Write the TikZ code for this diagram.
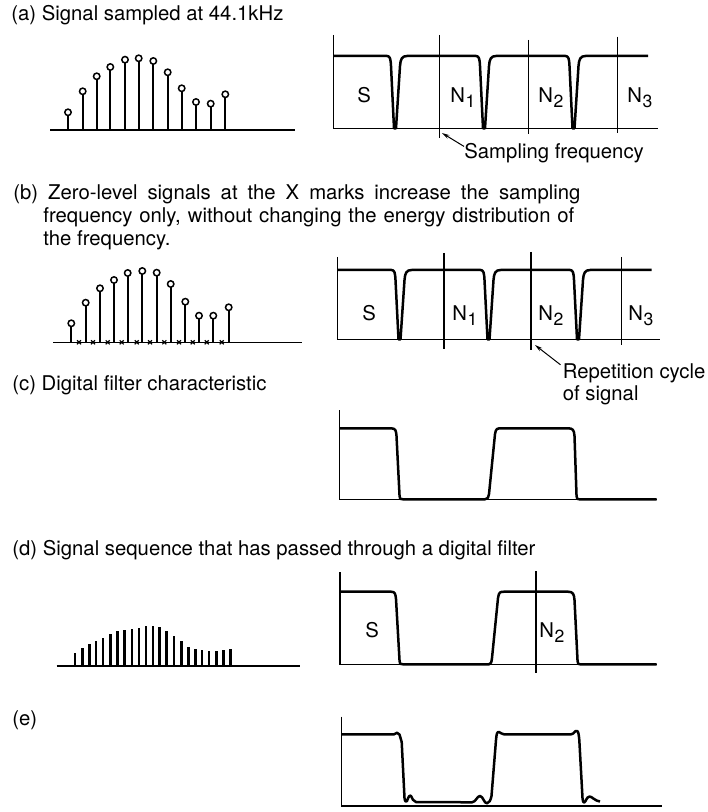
\documentclass[tikz,border=0pt]{standalone}
\usepackage{fontspec}
\setmainfont{TeX Gyre Heros}
\usetikzlibrary{arrows.meta}
\newcommand{\lowsub}[1]{\kern0.3pt\raisebox{-2.4pt}{\fontsize{8.8pt}{10pt}\selectfont #1}}
\begin{document}
\begin{tikzpicture}[x=0.5pt,y=-0.5pt,
  txt/.style={inner sep=0pt, anchor=base west, font=\fontsize{10.15pt}{12pt}\selectfont},
  axisline/.style={line width=0.7pt},
  divline/.style={line width=0.6pt},
  curveline/.style={line width=1.25pt, line join=round},
  stemline/.style={line width=0.9pt},
  barline/.style={line width=1.35pt},
  circ/.style={line width=0.75pt, fill=white},
  arr/.style={line width=0.5pt, -{Stealth[length=3.8pt,width=2pt]}}]
\useasboundingbox (0,0) rectangle (707,812);

% ---------------- (a)
\node[txt] (capa) at (11,21) {(a) Signal sampled at 44.1kHz};
\draw[axisline] (50,130) -- (295,130);
\foreach \x/\y in {68/112.3, 82.7/91.3, 96.7/76.3, 110.3/67, 125/59.7, 138.7/58.3, 153.3/61, 167.7/72.3, 181.7/88.3, 196/102, 210.7/103.7, 225.3/94.3}{
  \draw[stemline] (\x,130) -- (\x,\y+3);
  \draw[circ] (\x,\y) circle[radius=1.6pt];
}
\draw[axisline] (333.3,35) -- (333.3,128.3) -- (658,128.3);
\draw[divline] (439.5,35) -- (439.5,138);
\draw[divline] (528.8,40) -- (528.8,134);
\draw[divline] (617.7,36.7) -- (617.7,133);
\draw[curveline] (333.3,56)
  -- (387,56) .. controls (390,56) and (390.7,59) .. (391,66) -- (394,128.3) -- (396,128.3) -- (400,66) .. controls (400.5,59) and (402,56) .. (407,56)
  -- (476,56) .. controls (479,56) and (479.7,59) .. (480,66) -- (483,128.3) -- (485,128.3) -- (489,66) .. controls (489.5,59) and (491,56) .. (496,56)
  -- (565.5,56) .. controls (568.5,56) and (569.2,59) .. (569.5,66) -- (572.5,128.3) -- (574.5,128.3) -- (578.5,66) .. controls (579,59) and (580.5,56) .. (585.5,56)
  -- (648,56);
\node[txt] (aS) at (357,102.3) {S};
\node[txt] (aN1) at (450,102.3) {N\lowsub{1}};
\node[txt] (aN2) at (538,102.3) {N\lowsub{2}};
\node[txt] (aN3) at (627,102.3) {N\lowsub{3}};
\node[txt] (sf) at (464,159) {Sampling frequency};
\coordinate (sftip) at (442,133);
\draw[arr] ([yshift=-1.5pt]sf.north west) -- (sftip);

% ---------------- (b)
\node[txt] (capb1) at (13,200) {\makebox[283.5pt][s]{(b) Zero-level signals at the X marks increase the sampling}};
\node[txt] (capb2) at (43,223) {\makebox[265.5pt][s]{frequency only, without changing the energy distribution of}};
\node[txt] (capb3) at (43,246) {the frequency.};
\draw[axisline] (53,342.3) -- (301.7,342.3);
\foreach \x/\y in {71.3/323.3, 85.7/302.7, 100/288.3, 114/280, 127.7/273, 142.3/271, 156.7/272.7, 170.7/284, 185.3/301.7, 199/315.7, 213.3/315.7, 228.7/307.3}{
  \draw[stemline] (\x,342.3) -- (\x,\y+3);
  \draw[circ] (\x,\y) circle[radius=1.6pt];
}
\foreach \x in {79, 93, 107.7, 121.7, 136.7, 150, 164.3, 179, 192.7, 206.7, 221.7}{
  \draw[line width=0.6pt] (\x-2,340.3) -- (\x+2,344.3) (\x-2,344.3) -- (\x+2,340.3);
}
\draw[axisline] (337.3,257) -- (337.3,339.3) -- (660,339.3);
\draw[divline] (444,253) -- (444,349);
\draw[divline] (531,252) -- (531,350);
\draw[divline] (621.7,257) -- (621.7,345);
\draw[curveline] (337.3,270)
  -- (391.5,270) .. controls (394.5,270) and (395.2,273) .. (395.5,280) -- (398.5,339.3) -- (400.5,339.3) -- (404.5,280) .. controls (405,273) and (406.5,270) .. (411.5,270)
  -- (480.5,270) .. controls (483.5,270) and (484.2,273) .. (484.5,280) -- (487.5,339.3) -- (489.5,339.3) -- (493.5,280) .. controls (494,273) and (495.5,270) .. (500.5,270)
  -- (570,270) .. controls (573,270) and (573.7,273) .. (574,280) -- (577,339.3) -- (579,339.3) -- (583,280) .. controls (583.5,273) and (585,270) .. (590,270)
  -- (651.7,270);
\node[txt] (bS) at (362,320.3) {S};
\node[txt] (bN1) at (452,320.3) {N\lowsub{1}};
\node[txt] (bN2) at (538,320.3) {N\lowsub{2}};
\node[txt] (bN3) at (628,320.3) {N\lowsub{3}};
\node[txt] (rc1) at (562.5,378) {Repetition cycle};
\node[txt] (rc2) at (562.5,400) {of signal};
\coordinate (rctip) at (535,345);
\draw[arr] ([xshift=-1pt,yshift=-1pt]rc1.north west) -- (rctip);

% ---------------- (c)
\node[txt] (capc) at (12,390) {(c) Digital filter characteristic};
\draw[axisline] (339.3,410) -- (339.3,499.3) -- (656.7,499.3);
\draw[curveline] (339.3,428.3) -- (391,428.3) .. controls (396,428.3) and (396,431) .. (396.5,436)
  -- (399.5,495) .. controls (400,499.3) .. (403,499.3) -- (485,499.3)
  .. controls (488,499.3) and (488.5,497) .. (489,494) -- (495,434)
  .. controls (496,428.3) and (497,428.3) .. (502,428.3) -- (568,428.3)
  .. controls (573,428.3) and (574,430) .. (574.5,436) -- (576.5,495)
  .. controls (577,499.3) .. (581,499.3) -- (656.7,499.3);

% ---------------- (d)
\node[txt] (capd) at (12,555) {(d) Signal sequence that has passed through a digital filter};
\draw[axisline] (56.7,666) -- (300,666);
\foreach \x/\y in {75/653.3, 82.7/648.3, 89.3/644.3, 96/640.7, 103/638.3, 110.3/634, 117.3/631.3, 124.7/630, 132/629, 139/627.7, 146/626.3, 153/626, 159.7/626.7, 166.7/630.7, 174/636, 181.7/641.3, 188.3/647.3, 195.3/648.7, 202/650.3, 209/651, 216.3/651, 223.3/650, 230.7/649.3}{
  \draw[barline] (\x,666) -- (\x,\y);
}
\draw[axisline] (340,572) -- (340,664.3) -- (656.7,664.3);
\draw[divline] (536,571) -- (536,673.3);
\draw[curveline] (340,591.7) -- (391,591.7) .. controls (395,591.7) and (395.5,594) .. (396,599)
  -- (399.5,660) .. controls (400,664.3) .. (403,664.3) -- (489,664.3)
  .. controls (491,664.3) and (491.5,662) .. (492,658) -- (498,598)
  .. controls (499,591.7) and (500,591.7) .. (505,591.7) -- (568,591.7)
  .. controls (573,591.7) and (574,594) .. (574.5,600) -- (577.5,660)
  .. controls (578,664.3) .. (582,664.3) -- (656.7,664.3);
\node[txt] (dS) at (365,637.3) {S};
\node[txt] (dN2) at (539,637.3) {N\lowsub{2}};

% ---------------- (e)
\node[txt] (cape) at (12,725) {(e)};
\draw[axisline] (341.7,716.7) -- (341.7,806) -- (661.7,806);
\draw[curveline] (341.7,734.3) -- (394,734.3) .. controls (396,732.5) and (398,732) .. (399.5,734.5)
  .. controls (401,738) .. (401.7,742) -- (404.5,798)
  .. controls (405,802) and (406,802.5) .. (407,801)
  .. controls (408.5,797) and (409.5,794.5) .. (411,796)
  .. controls (412.5,798.5) and (413,801.5) .. (416,802) -- (472,802.3)
  .. controls (476,802) and (477,796) .. (480,796)
  .. controls (483,796) and (484,803.5) .. (487,803.3)
  .. controls (489.5,803) and (490.5,800) .. (491.5,796) -- (496,740)
  .. controls (496.5,734) and (497,731.5) .. (499,732)
  .. controls (501,732.5) and (501.5,734.3) .. (504,734.3) -- (571,734.3)
  .. controls (574,734.3) and (575,730) .. (577,731)
  .. controls (578.5,731.5) and (578.8,735) .. (579.3,740) -- (582.5,798)
  .. controls (583,803) and (584,803.5) .. (585.5,801)
  .. controls (587,798) and (588,796.5) .. (589.5,796.5)
  .. controls (592,796.5) and (595,801) .. (600,801.5);
\end{tikzpicture}
\end{document}
